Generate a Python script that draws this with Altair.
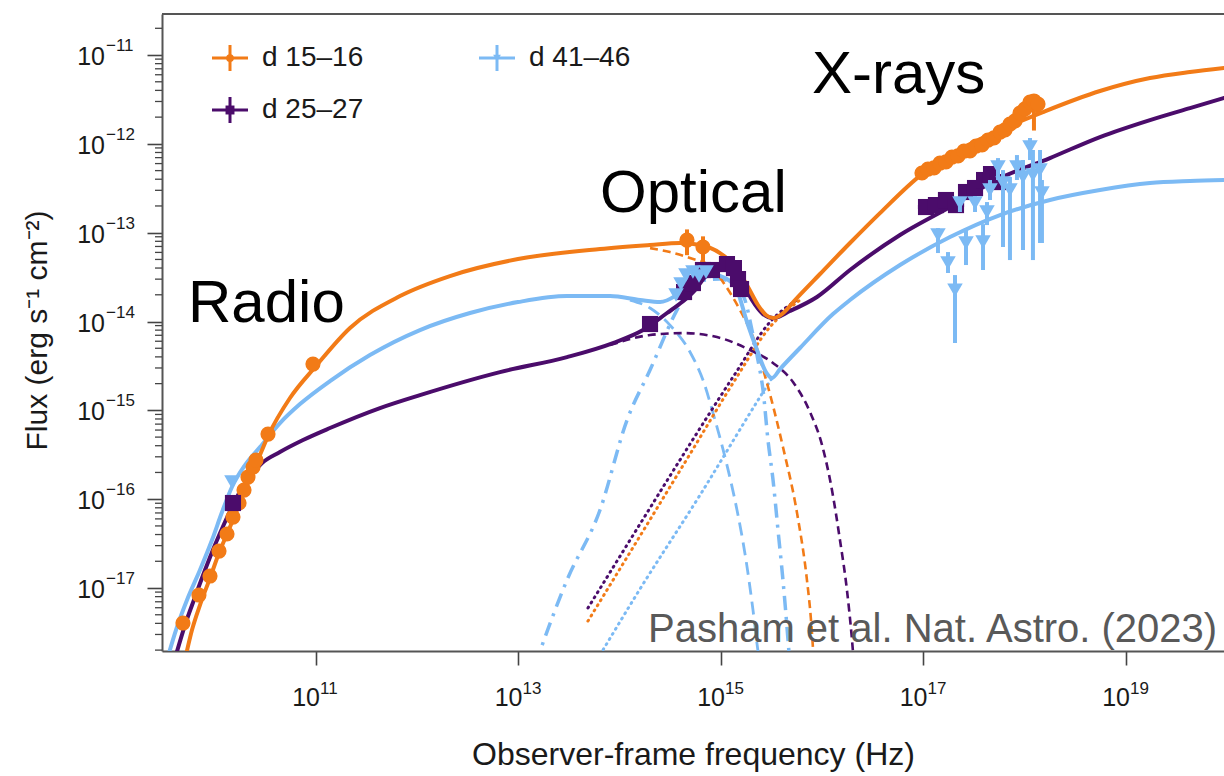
import altair as alt
import numpy as np
import pandas as pd

ORANGE = "#F27B17"
PURPLE = "#4B0C6B"
BLUE = "#7CBAF4"
FONT = "Liberation Sans"
INK = "#1a1a1a"

# axis ranges and labelled decades (log10)
X_RANGE = [9.479, 19.968]
Y_RANGE = [-17.709, -10.538]
X_TICK_EXP = [11, 13, 15, 17, 19]
Y_TICK_EXP = [-17, -16, -15, -14, -13, -12, -11]

# ---------------- model curves: log10(nu / Hz), log10(nuFnu / erg s^-1 cm^-2) ----------------
# d 15-16
d15_tot_lx = [9.716, 9.775, 9.854, 9.953, 10.042, 10.121, 10.200, 10.299, 10.398, 10.526, 10.743,
              11.000, 11.336, 11.830, 12.323, 12.995, 13.805, 14.299, 14.595, 14.793, 14.990, 15.138,
              15.267, 15.365, 15.444, 15.514, 15.602, 15.731, 15.978, 16.274, 16.570, 16.985, 17.262,
              17.756, 18.180, 18.743, 19.237, 19.632, 19.968]
d15_tot_ly = [-17.754, -17.473, -17.192, -16.888, -16.606, -16.392, -16.178, -15.897, -15.638, -15.289, -14.861,
              -14.501, -14.073, -13.713, -13.488, -13.297, -13.184, -13.139, -13.116, -13.139, -13.229, -13.375,
              -13.612, -13.814, -13.927, -13.961, -13.916, -13.758, -13.465, -13.116, -12.779, -12.340, -12.126,
              -11.844, -11.642, -11.405, -11.259, -11.191, -11.146]
d15_bb_lx = [14.299, 14.496, 14.694, 14.891, 15.040, 15.188, 15.316, 15.454, 15.612, 15.751, 15.849, 15.889, 15.919]
d15_bb_ly = [-13.173, -13.218, -13.285, -13.375, -13.589, -13.871, -14.175, -14.692, -15.413, -16.156, -16.910, -17.360, -17.867]
d15_pl_lx = [13.686, 14.200, 14.694, 15.138, 15.484, 15.780]
d15_pl_ly = [-17.372, -16.415, -15.492, -14.659, -14.062, -13.758]

# d 25-27
d25_tot_lx = [9.617, 9.706, 9.805, 9.904, 10.002, 10.101, 10.180, 10.269, 10.368, 10.467, 10.644,
              10.872, 11.138, 11.632, 12.027, 12.817, 13.479, 13.933, 14.230, 14.467, 14.615, 14.743,
              14.842, 14.960, 15.059, 15.138, 15.207, 15.306, 15.415, 15.514, 15.681, 15.948, 16.274,
              16.768, 17.262, 17.756, 18.249, 18.743, 19.237, 19.632, 19.968]
d25_tot_ly = [-17.754, -17.417, -17.102, -16.798, -16.516, -16.257, -16.066, -15.874, -15.717, -15.593, -15.469,
              -15.334, -15.199, -14.974, -14.828, -14.569, -14.400, -14.242, -14.096, -13.904, -13.781, -13.646,
              -13.499, -13.409, -13.387, -13.432, -13.544, -13.758, -13.916, -13.961, -13.882, -13.724, -13.420,
              -13.026, -12.711, -12.385, -12.160, -11.923, -11.732, -11.597, -11.484]
d25_bb_lx = [13.904, 14.299, 14.625, 14.960, 15.286, 15.514, 15.711, 15.879, 15.998, 16.096, 16.175, 16.244, 16.294, 16.314]
d25_bb_ly = [-14.265, -14.152, -14.130, -14.175, -14.321, -14.467, -14.681, -15.019, -15.390, -15.897, -16.460, -17.023, -17.586, -17.867]
d25_pl_lx = [13.686, 14.200, 14.694, 15.138, 15.484, 15.780]
d25_pl_ly = [-17.225, -16.280, -15.379, -14.591, -14.006, -13.736]

# d 41-46
d41_tot_lx = [9.528, 9.617, 9.726, 9.854, 9.973, 10.072, 10.170, 10.299, 10.447, 10.644, 10.842,
              11.138, 11.533, 12.027, 12.521, 12.995, 13.479, 13.904, 14.200, 14.398, 14.595, 14.793,
              14.921, 15.059, 15.158, 15.257, 15.356, 15.444, 15.504, 15.583, 15.780, 16.106, 16.274,
              16.768, 17.262, 17.756, 18.249, 18.743, 19.237, 19.632, 19.968]
d41_tot_ly = [-17.811, -17.473, -17.135, -16.798, -16.460, -16.145, -15.863, -15.616, -15.413, -15.143, -14.929,
              -14.670, -14.377, -14.096, -13.904, -13.781, -13.713, -13.713, -13.758, -13.781, -13.679, -13.522,
              -13.477, -13.522, -13.646, -14.006, -14.321, -14.569, -14.636, -14.535, -14.298, -13.916, -13.758,
              -13.364, -13.049, -12.801, -12.632, -12.520, -12.441, -12.418, -12.407]
d41_sync_lx = [14.101, 14.299, 14.496, 14.694, 14.822, 14.941, 15.059, 15.158, 15.247, 15.316, 15.365, 15.385]
d41_sync_ly = [-13.758, -13.848, -14.040, -14.343, -14.659, -15.109, -15.616, -16.122, -16.685, -17.248, -17.709, -17.867]
d41_bb_lx = [13.163, 13.479, 13.805, 14.072, 14.299, 14.565, 14.694, 14.842, 14.990, 15.138, 15.237,
             15.306, 15.365, 15.415, 15.464, 15.514, 15.563, 15.612, 15.662, 15.681]
d41_bb_ly = [-17.867, -16.910, -16.122, -15.109, -14.546, -13.871, -13.623, -13.533, -13.522, -13.589, -13.758,
             -14.096, -14.434, -14.771, -15.334, -15.784, -16.347, -16.910, -17.586, -17.867]
d41_pl_lx = [13.775, 14.200, 14.793, 15.385, 15.504]
d41_pl_ly = [-17.811, -17.011, -15.953, -14.850, -14.636]

# ---------------- measurements ----------------
# d 15-16: radio, optical/UV, X-ray
d15_lx = [9.686, 9.844, 9.953, 10.042, 10.121, 10.180, 10.240, 10.289, 10.328, 10.378, 10.407, 10.526, 10.970,
          14.664, 14.822,
          16.985, 17.044, 17.104, 17.163, 17.222, 17.281, 17.341, 17.400, 17.459, 17.519, 17.578,
          17.637, 17.696, 17.756, 17.805, 17.854, 17.904, 17.953, 18.002, 18.052, 18.091, 18.131]
d15_ly = [-17.394, -17.079, -16.865, -16.584, -16.392, -16.201, -16.043, -15.897, -15.751, -15.638, -15.559, -15.267, -14.479,
          -13.083, -13.161,
          -12.328, -12.285, -12.271, -12.217, -12.203, -12.150, -12.136, -12.082, -12.079, -12.026, -12.012,
          -11.958, -11.933, -11.868, -11.843, -11.778, -11.742, -11.654, -11.607, -11.530, -11.517, -11.552]
d15_ylo = [-17.394, -17.079, -16.865, -16.584, -16.392, -16.201, -16.043, -15.897, -15.751, -15.638, -15.559, -15.267, -14.479,
           -13.253, -13.331,
           -12.398, -12.355, -12.341, -12.287, -12.273, -12.220, -12.206, -12.152, -12.149, -12.096, -12.082,
           -12.028, -12.003, -11.938, -11.913, -11.848, -11.812, -11.724, -11.677, -11.640, -11.850, -11.660]
d15_yhi = [-17.394, -17.079, -16.865, -16.584, -16.392, -16.201, -16.043, -15.897, -15.751, -15.638, -15.559, -15.267, -14.479,
           -12.963, -13.041,
           -12.258, -12.215, -12.201, -12.147, -12.133, -12.080, -12.066, -12.012, -12.009, -11.956, -11.942,
           -11.888, -11.863, -11.798, -11.773, -11.708, -11.672, -11.584, -11.537, -11.460, -11.447, -11.480]

# d 25-27
d25_lx = [10.180,
          14.299, 14.635, 14.723, 14.822, 14.911, 15.059, 15.128, 15.168, 15.198,
          17.025, 17.123, 17.222, 17.321, 17.420, 17.509, 17.598, 17.667, 17.736]
d25_ly = [-16.043,
          -14.028, -13.668, -13.567, -13.420, -13.420, -13.353, -13.398, -13.522, -13.634,
          -12.711, -12.689, -12.632, -12.689, -12.542, -12.497, -12.407, -12.340, -12.430]
d25_xray_halfbin = [0.08, 0.08, 0.08, 0.08, 0.07, 0.07, 0.07, 0.06, 0.06]

# d 41-46
d41_lx = [10.170,
          14.556, 14.605, 14.654, 14.723, 14.783, 14.852,
          17.143, 17.242, 17.311, 17.360, 17.420, 17.509, 17.588, 17.627, 17.657, 17.736,
          17.785, 17.854, 17.923, 17.983, 18.052, 18.081, 18.151, 18.170]
d41_ly = [-15.807,
          -13.702, -13.578, -13.477, -13.443, -13.488, -13.443,
          -13.026, -13.342, -13.646, -12.666, -13.116, -12.666, -13.105, -12.767, -12.520, -12.261,
          -12.441, -12.520, -12.261, -12.373, -12.036, -12.351, -12.295, -12.554]
d41_ylo = [-15.807,
           -13.702, -13.578, -13.477, -13.443, -13.488, -13.443,
           -13.229, -13.454, -14.242, -12.767, -13.364, -12.767, -13.420, -12.914, -12.632, -12.407,
           -13.161, -13.308, -12.407, -13.195, -12.182, -13.308, -13.116, -13.116]
d41_yhi = [-15.807,
           -13.702, -13.578, -13.477, -13.443, -13.488, -13.443,
           -12.948, -13.218, -13.477, -12.599, -12.948, -12.587, -12.903, -12.655, -12.407, -12.160,
           -12.295, -12.373, -12.126, -12.182, -11.934, -12.069, -12.069, -12.407]

W, H = 1062, 637

xscale = alt.Scale(type="log", domain=[10 ** X_RANGE[0], 10 ** X_RANGE[1]], nice=False)
yscale = alt.Scale(type="log", domain=[10 ** Y_RANGE[0], 10 ** Y_RANGE[1]], nice=False)

xaxis = alt.Axis(values=[10.0 ** e for e in X_TICK_EXP], labels=False,
                 title="Observer-frame frequency (Hz)", grid=False, tickSize=14, tickWidth=1.6,
                 tickColor="#444", domainColor="#555", domainWidth=2,
                 titleFontSize=32, titleFontWeight="normal", titleColor=INK, titleY=113,
                 titleBaseline="alphabetic")
yaxis = alt.Axis(values=[10.0 ** e for e in Y_TICK_EXP], labels=False,
                 title="Flux (erg s\u207b\u00b9 cm\u207b\u00b2)", grid=False, tickSize=15, tickWidth=1.6,
                 tickColor="#444", domainColor="#555", domainWidth=2,
                 titleFontSize=30, titleFontWeight="normal", titleColor=INK, titleX=-125, titleY=316,
                 titleAngle=270, titleAlign="center", titleBaseline="middle")


def X(field):
    return alt.X(f"{field}:Q", scale=xscale, axis=xaxis)


def Y(field):
    return alt.Y(f"{field}:Q", scale=yscale, axis=yaxis)


def curve(lx, ly, color, width, dash=None, cap="butt"):
    df = pd.DataFrame({"nu": np.power(10.0, lx), "flux": np.power(10.0, ly)})
    kw = dict(color=color, strokeWidth=width, interpolate="monotone", clip=True, strokeCap=cap)
    if dash:
        kw["strokeDash"] = dash
    return alt.Chart(df).mark_line(**kw).encode(x=X("nu"), y=Y("flux"))


def meas(lx, ly, ylo=None, yhi=None, xhalf=None):
    df = pd.DataFrame({"nu": np.power(10.0, lx), "flux": np.power(10.0, ly)})
    df["ylo"] = np.power(10.0, ylo if ylo is not None else ly)
    df["yhi"] = np.power(10.0, yhi if yhi is not None else ly)
    h = np.asarray(xhalf if xhalf is not None else np.zeros(len(lx)))
    df["xlo"] = np.power(10.0, np.asarray(lx) - h)
    df["xhi"] = np.power(10.0, np.asarray(lx) + h)
    return df


def data_layers(df, color, shape, size, bar_w):
    vbar = alt.Chart(df).mark_rule(color=color, strokeWidth=bar_w).encode(
        x=X("nu"), y=Y("ylo"), y2="yhi")
    hbar = alt.Chart(df).mark_rule(color=color, strokeWidth=bar_w).encode(
        x=X("xlo"), x2="xhi", y=Y("flux"))
    pts = alt.Chart(df).mark_point(shape=shape, filled=True, size=size, color=color, opacity=1,
                                   strokeWidth=0).encode(x=X("nu"), y=Y("flux"))
    return [vbar, hbar, pts]


one = pd.DataFrame({"k": [0]})


def legend_item(cx, cy, color, shape, size, label):
    h = alt.Chart(one).mark_rule(color=color, strokeWidth=3).encode(
        x=alt.value(cx - 18), x2=alt.value(cx + 18), y=alt.value(cy))
    v = alt.Chart(one).mark_rule(color=color, strokeWidth=3).encode(
        x=alt.value(cx), y=alt.value(cy - 13), y2=alt.value(cy + 13))
    p = alt.Chart(one).mark_point(shape=shape, filled=True, size=size, color=color, opacity=1,
                                  strokeWidth=0).encode(x=alt.value(cx), y=alt.value(cy))
    t = alt.Chart(pd.DataFrame({"t": [label]})).mark_text(
        align="left", baseline="middle", fontSize=28, font=FONT, color=INK).encode(
        x=alt.value(cx + 32), y=alt.value(cy), text="t:N")
    return [h, v, p, t]


def note(text, x, y, size, color):
    return alt.Chart(pd.DataFrame({"t": [text]})).mark_text(
        align="left", baseline="alphabetic", fontSize=size, font=FONT, color=color).encode(
        x=alt.value(x), y=alt.value(y), text="t:N")


# power-of-ten tick labels, written as a base and a raised exponent
def exp_text(e):
    return str(e).replace("-", "\u2212")


xlab = pd.DataFrame({"v": [10.0 ** e for e in X_TICK_EXP], "base": "10",
                     "exp": [exp_text(e) for e in X_TICK_EXP]})
ylab = pd.DataFrame({"v": [10.0 ** e for e in Y_TICK_EXP], "base": "10",
                     "exp": [exp_text(e) for e in Y_TICK_EXP]})
tick_labels = [
    alt.Chart(xlab).mark_text(align="right", baseline="alphabetic", dx=4, fontSize=25,
                              font=FONT, color=INK).encode(x=X("v"), y=alt.value(H + 55), text="base:N"),
    alt.Chart(xlab).mark_text(align="left", baseline="alphabetic", dx=4, fontSize=17,
                              font=FONT, color=INK).encode(x=X("v"), y=alt.value(H + 43), text="exp:N"),
    alt.Chart(ylab).mark_text(align="right", baseline="alphabetic", dy=10, fontSize=25,
                              font=FONT, color=INK).encode(y=Y("v"), x=alt.value(-57), text="base:N"),
    alt.Chart(ylab).mark_text(align="left", baseline="alphabetic", dy=-4, fontSize=17,
                              font=FONT, color=INK).encode(y=Y("v"), x=alt.value(-56), text="exp:N"),
]

# minor ticks of the flux axis
minor = [m * 10.0 ** k for k in range(-18, -10) for m in range(2, 10)
         if Y_RANGE[0] <= np.log10(m * 10.0 ** k) <= Y_RANGE[1]]
minor_ticks = alt.Chart(pd.DataFrame({"v": minor})).mark_rule(color="#444", strokeWidth=1.3).encode(
    y=Y("v"), x=alt.value(-7), x2=alt.value(0))
top_frame = alt.Chart(one).mark_rule(color="#555", strokeWidth=2).encode(
    x=alt.value(0), x2=alt.value(W), y=alt.value(0))

DOT = [1, 5]
layers = [
    minor_ticks, top_frame,
    # components
    curve(d41_bb_lx, d41_bb_ly, BLUE, 3.5, [14, 7, 3, 7]),
    curve(d41_sync_lx, d41_sync_ly, BLUE, 2.8, [13, 7]),
    curve(d41_pl_lx, d41_pl_ly, BLUE, 3, DOT, "round"),
    curve(d25_pl_lx, d25_pl_ly, PURPLE, 3, DOT, "round"),
    curve(d15_pl_lx, d15_pl_ly, ORANGE, 3, DOT, "round"),
    curve(d25_bb_lx, d25_bb_ly, PURPLE, 2.6, [8, 5]),
    curve(d15_bb_lx, d15_bb_ly, ORANGE, 2.6, [8, 5]),
    # totals
    curve(d41_tot_lx, d41_tot_ly, BLUE, 4, cap="round"),
    curve(d25_tot_lx, d25_tot_ly, PURPLE, 4, cap="round"),
    curve(d15_tot_lx, d15_tot_ly, ORANGE, 4, cap="round"),
]

d15_df = meas(d15_lx, d15_ly, d15_ylo, d15_yhi,
              [0.0] * 15 + [0.03] * (len(d15_lx) - 15))
d25_df = meas(d25_lx, d25_ly, None, None, [0.0] * 10 + d25_xray_halfbin)
d41_df = meas(d41_lx, d41_ly, d41_ylo, d41_yhi)

layers += data_layers(d15_df, ORANGE, "circle", 230, 4)
layers += data_layers(d25_df, PURPLE, "square", 260, 4.5)
layers += data_layers(d41_df, BLUE, "triangle-down", 240, 4)

layers += tick_labels
layers += legend_item(68, 44, ORANGE, "circle", 60, "d 15\u201316")
layers += legend_item(68, 96, PURPLE, "square", 80, "d 25\u201327")
layers += legend_item(335, 44, BLUE, "triangle-down", 60, "d 41\u201346")

layers += [
    note("Radio", 26, 308, 60, "#000"),
    note("Optical", 438, 198, 60, "#000"),
    note("X-rays", 650, 79, 60, "#000"),
    note("Pasham et al. Nat. Astro. (2023)", 486, 628, 40, "#595959"),
]

chart = alt.layer(*layers).properties(
    width=W, height=H,
    autosize=alt.AutoSizeParams(type="none"),
    padding={"left": 162, "top": 14, "right": 0, "bottom": 125},
    background="white",
).configure_view(stroke=None).configure_axis(labelFont=FONT, titleFont=FONT)

chart.save("out.html", embed_options={"renderer": "svg", "actions": False})
